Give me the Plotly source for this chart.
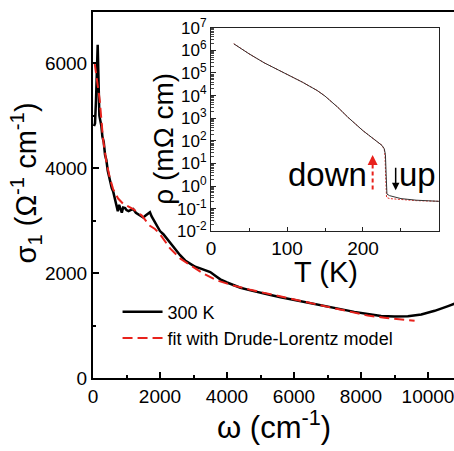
import plotly.graph_objects as go

# ---- main panel data: optical conductivity at 300 K ----
omega_exp = [30, 60, 90, 120, 140, 160, 190, 220, 250, 280, 320, 360, 400, 440, 480, 520, 560, 600,
             650, 700, 740, 780, 820, 860, 900, 960, 1000, 1060, 1120, 1200, 1280, 1360, 1430, 1500,
             1580, 1650, 1700, 1750, 1800, 1900, 2000, 2100, 2200, 2300, 2450, 2600, 2750, 2900, 3050,
             3200, 3350, 3500, 3650, 3800, 4000, 4200, 4400, 4700, 5000, 5300, 5600, 5900, 6200, 6600,
             7000, 7400, 7800, 8200, 8600, 9000, 9400, 9800, 10200, 10600, 10900]
sigma_exp = [4800, 4850, 5300, 6300, 6350, 5800, 5000, 4900, 4800, 4600, 4500, 4250, 4150, 3950, 3850,
             3700, 3620, 3560, 3400, 3250, 3180, 3300, 3200, 3150, 3250, 3240, 3200, 3180, 3200, 3220,
             3150, 3120, 3080, 3060, 3100, 3130, 3160, 3080, 3020, 2900, 2800, 2740, 2660, 2580, 2450,
             2340, 2240, 2180, 2120, 2090, 2060, 2020, 1950, 1880, 1820, 1770, 1720, 1670, 1620, 1580,
             1540, 1500, 1470, 1420, 1360, 1300, 1260, 1220, 1180, 1170, 1175, 1210, 1280, 1370, 1440]

omega_fit = [50, 100, 150, 200, 300, 400, 500, 600, 750, 900, 1000, 1200, 1450, 1700, 1850, 2000,
             2300, 2600, 2900, 3300, 3700, 4200, 4700, 5200, 5700, 6200, 6700, 7200, 7700, 8200,
             8700, 9200, 9600]
sigma_fit = [6000, 5750, 5500, 5300, 4550, 4120, 3820, 3600, 3420, 3320, 3290, 3220, 3100, 2900,
             2840, 2740, 2470, 2280, 2150, 1990, 1860, 1760, 1680, 1610, 1530, 1470, 1400, 1320,
             1250, 1190, 1150, 1120, 1090]

main_xticks = [0, 2000, 4000, 6000, 8000, 10000]
main_yticks = [0, 2000, 4000, 6000]

# ---- inset data: resistivity vs temperature ----
T_up = [30, 50, 70, 80, 100, 120, 140, 150, 167, 180, 200, 211, 220, 225, 228, 229.5, 230.5,
        231.5, 235, 250, 270, 300]
logrho_up = [6.29, 5.85, 5.45, 5.28, 4.95, 4.6, 4.22, 3.98, 3.48, 3.05, 2.45, 2.16, 1.92, 1.8,
             1.65, 1.4, 0.5, -0.35, -0.42, -0.55, -0.62, -0.67]
T_down = [30, 50, 70, 80, 100, 120, 140, 150, 167, 180, 200, 211, 220, 225, 228, 229, 230,
          231, 235, 250, 270, 300]
logrho_down = [6.29, 5.85, 5.45, 5.28, 4.95, 4.6, 4.22, 3.98, 3.48, 3.05, 2.45, 2.16, 1.92, 1.8,
               1.63, 1.3, 0.3, -0.5, -0.55, -0.6, -0.64, -0.67]
rho_up = [10 ** v for v in logrho_up]
rho_down = [10 ** v for v in logrho_down]

inset_xticks = [0, 100, 200, 300]
inset_ytick_exp = list(range(-2, 8))

FONT = "Liberation Sans, Arial, sans-serif"

fig = go.Figure()

fig.add_trace(go.Scatter(x=omega_exp, y=sigma_exp, mode="lines", name="300 K",
                         line=dict(color="black", width=2.5), xaxis="x", yaxis="y"))
fig.add_trace(go.Scatter(x=omega_fit, y=sigma_fit, mode="lines",
                         name="fit with Drude-Lorentz model",
                         line=dict(color="#e8221c", width=2, dash="10px,5px"), xaxis="x", yaxis="y"))

fig.add_trace(go.Scatter(x=T_down, y=rho_down, mode="lines", showlegend=False,
                         line=dict(color="#e0302a", width=1, dash="2px,1.5px"), xaxis="x2", yaxis="y2"))
fig.add_trace(go.Scatter(x=T_up, y=rho_up, mode="lines", showlegend=False,
                         line=dict(color="#333333", width=1), xaxis="x2", yaxis="y2"))

# dashed shaft of the red arrow in the inset
fig.add_trace(go.Scatter(x=[212.7, 212.7], y=[10 ** -0.15, 10 ** 1.05], mode="lines", showlegend=False,
                         line=dict(color="#e8221c", width=2, dash="4px,3px"), xaxis="x2", yaxis="y2"))

annotations = [
    dict(x=212.7, y=1.38, ax=212.7, ay=1.0, xref="x2", yref="y2", axref="x2", ayref="y2",
         showarrow=True, arrowhead=2, arrowsize=1, arrowwidth=2, arrowcolor="#e8221c", text=""),
    dict(x=243, y=-0.18, ax=243, ay=0.88, xref="x2", yref="y2", axref="x2", ayref="y2",
         showarrow=True, arrowhead=2, arrowsize=1, arrowwidth=1.5, arrowcolor="black", text=""),
    dict(x=153, y=0.53, xref="x2", yref="y2", text="down", showarrow=False,
         font=dict(family=FONT, size=33, color="black"), xanchor="center", yanchor="middle"),
    dict(x=272, y=0.53, xref="x2", yref="y2", text="up", showarrow=False,
         font=dict(family=FONT, size=33, color="black"), xanchor="center", yanchor="middle"),
    # axis titles
    dict(x=-0.185, y=0.532, xref="paper", yref="paper", text="σ<sub>1</sub> (Ω<sup>-1</sup> cm<sup>-1</sup>)",
         textangle=-90, showarrow=False, font=dict(family=FONT, size=29, color="black"),
         xanchor="center", yanchor="middle"),
    dict(x=0.50, y=-0.128, xref="paper", yref="paper", text="ω (cm<sup>-1</sup>)",
         showarrow=False, font=dict(family=FONT, size=31, color="black"),
         xanchor="center", yanchor="middle"),
    dict(x=0.645, y=0.29, xref="paper", yref="paper", text="T (K)",
         showarrow=False, font=dict(family=FONT, size=29, color="black"),
         xanchor="center", yanchor="middle"),
    dict(x=0.195, y=0.655, xref="paper", yref="paper", text="ρ (mΩ cm)", textangle=-90,
         showarrow=False, font=dict(family=FONT, size=28, color="black"),
         xanchor="center", yanchor="middle"),
]

fig.update_layout(
    width=454, height=451,
    margin=dict(l=93, r=0, t=6, b=73),
    paper_bgcolor="white", plot_bgcolor="white",
    font=dict(family=FONT, size=19, color="black"),
    showlegend=True,
    legend=dict(x=0.068, y=0.231, xanchor="left", yanchor="top", bgcolor="rgba(0,0,0,0)",
                font=dict(family=FONT, size=18), tracegroupgap=0, itemwidth=40),
    annotations=annotations,
    xaxis=dict(range=[0, 10776], showgrid=False, zeroline=False, showline=True, linecolor="black",
               linewidth=2, mirror=True, ticks="inside", ticklen=6, tickwidth=1.5, tickcolor="black",
               tickvals=main_xticks, ticktext=[str(v) for v in main_xticks], tickfont=dict(size=19),
               ticklabeloverflow="allow",
               minor=dict(ticks="inside", ticklen=3, tickwidth=1.5, tickcolor="black", dtick=1000,
                          tick0=0, showgrid=False)),
    yaxis=dict(range=[0, 6975], showgrid=False, zeroline=False, showline=True, linecolor="black",
               linewidth=2, ticks="inside", ticklen=6, tickwidth=1.5, tickcolor="black",
               tickvals=main_yticks, ticktext=[str(v) for v in main_yticks], tickfont=dict(size=19),
               minor=dict(ticks="inside", ticklen=3, tickwidth=1.5, tickcolor="black", dtick=1000,
                          tick0=0, showgrid=False)),
    xaxis2=dict(domain=[0.3269, 0.9584], anchor="y2", range=[0, 300], showgrid=False, zeroline=False,
                showline=True, linecolor="#222", linewidth=1.2, mirror=True, ticks="inside", ticklen=4,
                tickcolor="#222", tickvals=inset_xticks, ticktext=[str(v) for v in inset_xticks],
                tickfont=dict(size=19),
                minor=dict(ticks="inside", ticklen=3, tickcolor="#222", dtick=50, tick0=0,
                           showgrid=False)),
    yaxis2=dict(domain=[0.4005, 0.957], anchor="x2", type="log", range=[-2, 7], showgrid=False,
                zeroline=False, showline=True, linecolor="#222", linewidth=1.2, mirror=True,
                ticks="inside", ticklen=5, tickcolor="#222",
                tickvals=[10 ** e for e in inset_ytick_exp],
                ticktext=["10<sup>%d</sup>" % e for e in inset_ytick_exp],
                tickfont=dict(size=17),
                minor=dict(ticks="inside", ticklen=3, tickcolor="#444", dtick="D1", showgrid=False)),
)

fig.write_html("out.html")
